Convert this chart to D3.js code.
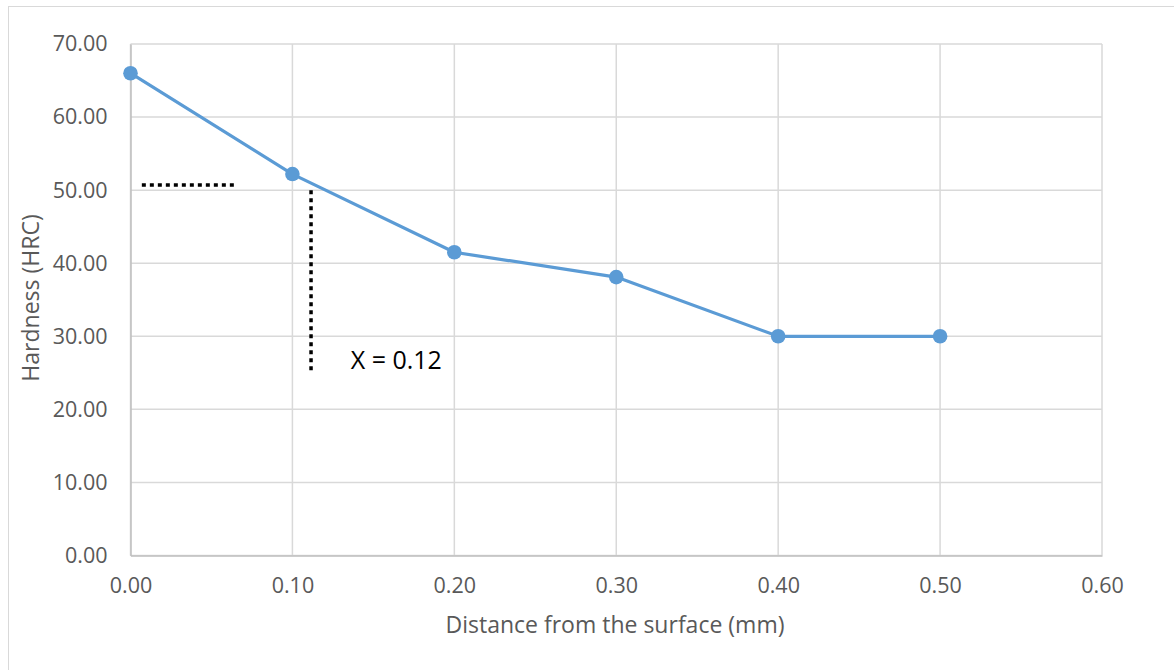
<!DOCTYPE html>
<html>
<head>
<meta charset="utf-8">
<script src="https://cdn.jsdelivr.net/npm/d3@7/dist/d3.min.js"></script>
<style>
  html, body { margin: 0; padding: 0; background: #fff; }
  svg { display: block; font-family: "Open Sans", sans-serif; }
</style>
</head>
<body>
<svg id="chart" width="1174" height="670"></svg>
<script>
// hardness profile
const distances = [0.0, 0.1, 0.2, 0.3, 0.4, 0.5];
const hardness = [66.0, 52.2, 41.5, 38.1, 30.0, 30.0];

const xTicks = [0, 0.1, 0.2, 0.3, 0.4, 0.5, 0.6];
const yTicks = [0, 10, 20, 30, 40, 50, 60, 70];

// dotted guide lines and note
const guideH = { x: [0.007, 0.064], y: 50.7 };
const guideV = { x: 0.1115, y: [25.3, 50.0] };
const note = { text: 'X = 0.12', x: 0.136, y: 25.5 };

const svg = d3.select('#chart');

const margin = { top: 44, right: 72, bottom: 114.5, left: 130.5 };
const width = 1174 - margin.left - margin.right;
const height = 670 - margin.top - margin.bottom;

// outer frame (cut off at right / bottom)
svg.append('rect')
  .attr('x', 8.5).attr('y', 6.5)
  .attr('width', 1200).attr('height', 700)
  .attr('fill', 'none')
  .attr('stroke', '#D9D9D9')
  .attr('stroke-width', 1);

const g = svg.append('g')
  .attr('transform', `translate(${margin.left},${margin.top})`);

const x = d3.scaleLinear().domain([0, 0.6]).range([0, width]);
const y = d3.scaleLinear().domain([0, 70]).range([height, 0]);

// grid
g.append('g')
  .selectAll('line.hg')
  .data(yTicks)
  .join('line')
  .attr('x1', 0).attr('x2', width)
  .attr('y1', d => y(d)).attr('y2', d => y(d))
  .attr('stroke', '#D9D9D9').attr('stroke-width', 1.5);

g.append('g')
  .selectAll('line.vg')
  .data(xTicks)
  .join('line')
  .attr('y1', 0).attr('y2', height)
  .attr('x1', d => x(d)).attr('x2', d => x(d))
  .attr('stroke', '#D9D9D9').attr('stroke-width', 1.5);

// axes
const xAxis = g.append('g')
  .attr('transform', `translate(0,${height})`)
  .call(d3.axisBottom(x).tickValues(xTicks).tickFormat(d3.format('.2f')).tickSize(0).tickPadding(22));
xAxis.select('.domain').attr('stroke', '#BFBFBF').attr('stroke-width', 1.5);
xAxis.selectAll('text').attr('fill', '#595959').attr('font-size', 21.5).attr('font-family', '"Open Sans", sans-serif');

const yAxis = g.append('g')
  .call(d3.axisLeft(y).tickValues(yTicks).tickFormat(d3.format('.2f')).tickSize(0).tickPadding(23));
yAxis.select('.domain').attr('stroke', '#BFBFBF').attr('stroke-width', 1.5);
yAxis.selectAll('text').attr('fill', '#595959').attr('font-size', 21.5).attr('font-family', '"Open Sans", sans-serif');

// axis titles
svg.append('text')
  .attr('x', 615)
  .attr('y', 633)
  .attr('text-anchor', 'middle')
  .attr('fill', '#595959')
  .attr('font-size', 23)
  .text('Distance from the surface (mm)');

svg.append('text')
  .attr('transform', `translate(39,298) rotate(-90)`)
  .attr('text-anchor', 'middle')
  .attr('fill', '#595959')
  .attr('font-size', 23)
  .text('Hardness (HRC)');

// series line
const line = d3.line()
  .x((d, i) => x(distances[i]))
  .y(d => y(d));

g.append('path')
  .datum(hardness)
  .attr('fill', 'none')
  .attr('stroke', '#5B9BD5')
  .attr('stroke-width', 3.2)
  .attr('stroke-linejoin', 'round')
  .attr('d', line);

g.selectAll('circle.pt')
  .data(hardness)
  .join('circle')
  .attr('class', 'pt')
  .attr('cx', (d, i) => x(distances[i]))
  .attr('cy', d => y(d))
  .attr('r', 7.3)
  .attr('fill', '#5B9BD5');

// dotted guides
g.append('line')
  .attr('x1', x(guideH.x[0])).attr('x2', x(guideH.x[1]))
  .attr('y1', y(guideH.y)).attr('y2', y(guideH.y))
  .attr('stroke', '#000').attr('stroke-width', 3.5)
  .attr('stroke-dasharray', '4 4');

g.append('line')
  .attr('x1', x(guideV.x)).attr('x2', x(guideV.x))
  .attr('y1', y(guideV.y[1])).attr('y2', y(guideV.y[0]))
  .attr('stroke', '#000').attr('stroke-width', 3.5)
  .attr('stroke-dasharray', '4 4');

g.append('text')
  .attr('x', x(note.x))
  .attr('y', y(note.y))
  .attr('fill', '#000')
  .attr('font-size', 25)
  .text(note.text);
</script>
</body>
</html>
